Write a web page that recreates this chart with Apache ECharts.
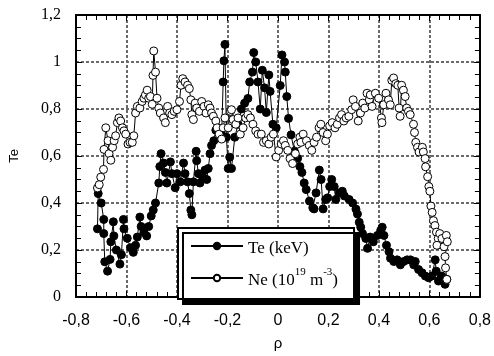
<!DOCTYPE html>
<html>
<head>
<meta charset="utf-8">
<script src="https://cdn.jsdelivr.net/npm/echarts@6/dist/echarts.min.js"></script>
<style>
  html, body { margin: 0; padding: 0; background: #fff; }
  #chart { width: 494px; height: 356px; }
</style>
</head>
<body>
<div id="chart"></div>
<script>
// Te (keV) profile
var teRho = [-0.715,-0.712,-0.70,-0.69,-0.69,-0.686,-0.675,-0.665,-0.662,-0.652,-0.65,-0.64,-0.626,-0.62,-0.612,-0.61,
  -0.597,-0.584,-0.573,-0.564,-0.557,-0.547,-0.542,-0.531,-0.52,-0.512,-0.502,-0.494,-0.485,-0.472,-0.468,-0.463,
  -0.453,-0.446,-0.44,-0.426,-0.42,-0.407,-0.40,-0.387,-0.374,-0.368,-0.358,-0.351,-0.345,-0.341,-0.335,-0.324,
  -0.322,-0.315,-0.309,-0.298,-0.289,-0.282,-0.276,-0.269,-0.263,-0.254,-0.246,-0.237,-0.223,-0.217,-0.214,-0.21,
  -0.204,-0.197,-0.191,-0.184,-0.171,-0.158,-0.145,-0.132,-0.119,-0.112,-0.101,-0.096,-0.088,-0.079,-0.07,-0.062,
  -0.053,-0.046,-0.036,-0.031,-0.02,-0.007,0.009,0.016,0.026,0.029,0.035,0.042,0.052,0.065,0.078,0.087,
  0.095,0.104,0.112,0.125,0.138,0.143,0.151,0.164,0.171,0.179,0.189,0.197,0.205,0.213,0.223,0.229,
  0.243,0.255,0.263,0.282,0.296,0.309,0.315,0.322,0.328,0.335,0.348,0.355,0.365,0.378,0.394,0.407,
  0.413,0.42,0.43,0.44,0.446,0.459,0.472,0.485,0.498,0.512,0.525,0.538,0.544,0.557,0.571,0.584,
  0.597,0.61,0.623,0.627,0.636,0.649,0.662,0.669];
var teVal = [0.29,0.44,0.40,0.33,0.27,0.15,0.11,0.16,0.235,0.32,0.26,0.20,0.14,0.18,0.33,0.29,
  0.25,0.21,0.19,0.22,0.255,0.34,0.30,0.275,0.26,0.30,0.345,0.37,0.40,0.485,0.555,0.61,
  0.57,0.53,0.485,0.575,0.525,0.465,0.525,0.49,0.57,0.525,0.49,0.44,0.37,0.35,0.49,0.62,
  0.58,0.525,0.485,0.51,0.54,0.50,0.547,0.61,0.645,0.665,0.71,0.72,0.69,0.915,1.005,1.075,
  0.68,0.547,0.595,0.547,0.68,0.735,0.80,0.825,0.845,0.915,0.957,1.04,1.0,0.915,0.80,0.965,
  0.89,0.785,0.945,0.875,0.735,0.72,0.90,1.03,1.0,0.957,0.853,0.76,0.69,0.62,0.59,0.555,
  0.53,0.485,0.457,0.408,0.38,0.375,0.443,0.54,0.50,0.375,0.415,0.422,0.47,0.50,0.47,0.415,
  0.443,0.45,0.43,0.415,0.40,0.374,0.353,0.318,0.297,0.27,0.249,0.207,0.255,0.235,0.262,0.283,
  0.297,0.262,0.22,0.193,0.165,0.151,0.158,0.137,0.151,0.158,0.158,0.137,0.151,0.117,0.103,0.089,
  0.082,0.089,0.158,0.11,0.068,0.089,0.054,0.075];

// Ne (10^19 m^-3) profile
var neRho = [-0.715,-0.708,-0.702,-0.691,-0.689,-0.682,-0.673,-0.669,-0.662,-0.655,-0.649,-0.643,-0.636,-0.63,-0.623,-0.616,
  -0.61,-0.603,-0.594,-0.586,-0.577,-0.571,-0.564,-0.557,-0.547,-0.538,-0.531,-0.525,-0.518,-0.512,-0.505,-0.498,
  -0.495,-0.492,-0.485,-0.479,-0.472,-0.466,-0.453,-0.446,-0.437,-0.429,-0.42,-0.411,-0.40,-0.39,-0.384,-0.377,
  -0.368,-0.358,-0.351,-0.345,-0.341,-0.335,-0.328,-0.322,-0.311,-0.302,-0.293,-0.285,-0.276,-0.269,-0.263,-0.256,
  -0.246,-0.241,-0.233,-0.223,-0.217,-0.21,-0.197,-0.188,-0.184,-0.178,-0.167,-0.158,-0.149,-0.138,-0.128,-0.119,
  -0.109,-0.099,-0.088,-0.079,-0.066,-0.057,-0.046,-0.036,-0.027,-0.018,-0.007,0.003,0.013,0.022,0.029,0.039,
  0.048,0.058,0.069,0.078,0.087,0.091,0.10,0.113,0.124,0.134,0.143,0.153,0.163,0.17,0.179,0.189,
  0.196,0.205,0.215,0.226,0.235,0.244,0.252,0.261,0.27,0.281,0.292,0.298,0.307,0.318,0.327,0.336,
  0.344,0.353,0.362,0.366,0.373,0.386,0.399,0.41,0.412,0.419,0.428,0.438,0.445,0.451,0.458,0.467,
  0.475,0.48,0.484,0.49,0.497,0.504,0.51,0.517,0.524,0.537,0.541,0.546,0.553,0.559,0.572,0.576,
  0.583,0.585,0.593,0.598,0.602,0.606,0.611,0.616,0.622,0.628,0.635,0.630,0.641,0.65,0.658,0.667,
  0.671,0.662,0.664,0.669];
var neVal = [0.464,0.478,0.51,0.543,0.628,0.72,0.665,0.61,0.582,0.637,0.665,0.686,0.742,0.762,0.749,0.72,
  0.707,0.693,0.651,0.658,0.658,0.686,0.783,0.811,0.804,0.832,0.846,0.86,0.88,0.846,0.853,0.82,
  0.943,1.047,0.957,0.846,0.804,0.783,0.762,0.742,0.811,0.783,0.776,0.79,0.797,0.832,0.901,0.929,
  0.915,0.901,0.887,0.839,0.776,0.755,0.825,0.804,0.79,0.832,0.811,0.783,0.818,0.804,0.783,0.769,
  0.749,0.72,0.693,0.672,0.72,0.762,0.72,0.79,0.797,0.755,0.735,0.762,0.693,0.72,0.762,0.776,
  0.762,0.735,0.707,0.693,0.693,0.658,0.665,0.651,0.68,0.693,0.596,0.624,0.651,0.665,0.645,0.624,
  0.589,0.568,0.61,0.651,0.68,0.658,0.693,0.665,0.645,0.624,0.658,0.68,0.72,0.735,0.70,0.665,
  0.693,0.728,0.742,0.72,0.735,0.762,0.776,0.749,0.762,0.769,0.797,0.839,0.811,0.749,0.783,0.825,
  0.804,0.867,0.839,0.86,0.811,0.867,0.846,0.762,0.742,0.818,0.867,0.839,0.818,0.922,0.932,0.908,
  0.901,0.804,0.769,0.901,0.88,0.853,0.804,0.79,0.776,0.735,0.70,0.658,0.637,0.617,0.637,0.617,
  0.589,0.554,0.512,0.47,0.45,0.387,0.36,0.325,0.304,0.276,0.249,0.22,0.27,0.249,0.214,0.262,
  0.235,0.172,0.124,0.075];

var xTicks = { min: -0.8, max: 0.8, step: 0.2 };
var yTicks = { min: 0, max: 1.2, step: 0.2 };

function zip(a, b) { return a.map(function (v, i) { return [v, b[i]]; }); }
function comma(v) { return String(+v.toFixed(2)).replace('.', ','); }

var chart = echarts.init(document.getElementById('chart'));

var grid = { left: 73, right: 14, top: 15, bottom: 53 };
var gridLine = { show: true, lineStyle: { color: '#6a6a6a', width: 2, type: [3, 2] } };
var frame = { show: true, onZero: false, lineStyle: { color: '#000', width: 2 } };
var majorTick = { show: true, inside: true, length: 6, lineStyle: { color: '#000', width: 1 } };

chart.setOption({
  animation: false,
  grid: grid,
  xAxis: [{
    type: 'value', min: xTicks.min, max: xTicks.max, interval: xTicks.step,
    position: 'bottom',
    name: 'ρ', nameLocation: 'middle', nameGap: 39,
    nameTextStyle: { fontFamily: 'Liberation Sans', fontSize: 15, color: '#000' },
    axisLine: frame,
    axisTick: majorTick,
    minorTick: { show: true, splitNumber: 5, length: 5, lineStyle: { color: '#000', width: 1 } },
    axisLabel: { formatter: comma, fontFamily: 'Liberation Sans', fontSize: 16, color: '#000', margin: 16 },
    splitLine: gridLine
  }, {
    type: 'value', min: xTicks.min, max: xTicks.max, interval: xTicks.step,
    position: 'top',
    axisLine: frame,
    axisTick: majorTick,
    minorTick: { show: true, splitNumber: 5, length: 5, lineStyle: { color: '#000', width: 1 } },
    axisLabel: { show: false },
    splitLine: { show: false }
  }],
  yAxis: [{
    type: 'value', min: yTicks.min, max: yTicks.max, interval: yTicks.step,
    position: 'left',
    name: 'Te', nameLocation: 'middle', nameGap: 55,
    nameTextStyle: { fontFamily: 'Liberation Sans', fontSize: 13, color: '#000' },
    axisLine: frame,
    axisTick: majorTick,
    minorTick: { show: true, splitNumber: 4, length: 5, lineStyle: { color: '#000', width: 1 } },
    axisLabel: { formatter: comma, fontFamily: 'Liberation Serif', fontSize: 16, color: '#000', margin: 15 },
    splitLine: gridLine
  }, {
    type: 'value', min: yTicks.min, max: yTicks.max, interval: yTicks.step,
    position: 'right',
    axisLine: frame,
    axisTick: majorTick,
    minorTick: { show: true, splitNumber: 4, length: 5, lineStyle: { color: '#000', width: 1 } },
    axisLabel: { show: false },
    splitLine: { show: false }
  }],
  legend: {
    left: 178, top: 228,
    orient: 'vertical',
    itemWidth: 52, itemHeight: 8, itemGap: 10,
    padding: [12, 16, 10, 12],
    backgroundColor: '#fff',
    borderColor: '#000', borderWidth: 2, borderRadius: 0,
    shadowColor: '#000', shadowBlur: 0, shadowOffsetX: 5, shadowOffsetY: 5,
    data: ['Te', 'Ne'],
    formatter: function (name) {
      return name === 'Te' ? '{m|Te (keV)}' : '{m|Ne (10}{s|19}{m| m}{s|-3}{m|)}';
    },
    textStyle: {
      color: '#000',
      rich: {
        m: { fontFamily: 'Liberation Serif', fontSize: 17, color: '#000', lineHeight: 22, verticalAlign: 'bottom' },
        s: { fontFamily: 'Liberation Serif', fontSize: 11, color: '#000', lineHeight: 22, verticalAlign: 'top' }
      }
    }
  },
  series: [{
    name: 'Te', type: 'line',
    data: zip(teRho, teVal),
    symbol: 'circle', symbolSize: 8,
    itemStyle: { color: '#000', borderColor: '#000', borderWidth: 1 },
    lineStyle: { color: '#000', width: 1 },
    z: 2
  }, {
    name: 'Ne', type: 'line',
    data: zip(neRho, neVal),
    symbol: 'circle', symbolSize: 8,
    itemStyle: { color: '#fff', borderColor: '#000', borderWidth: 1 },
    lineStyle: { color: '#000', width: 1 },
    z: 3
  }]
});
</script>
</body>
</html>
